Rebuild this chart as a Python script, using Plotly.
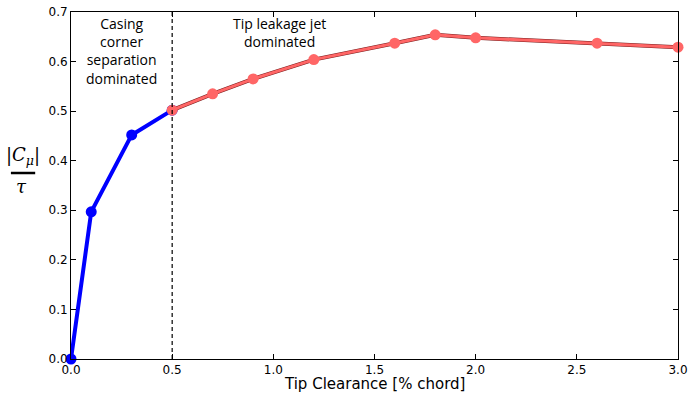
import plotly.graph_objects as go

# Casing-corner-separation regime
x_corner = [0.0, 0.1, 0.3, 0.5]
y_corner = [0.0, 0.297, 0.452, 0.502]

# Tip-leakage-jet regime
x_jet = [0.5, 0.7, 0.9, 1.2, 1.6, 1.8, 2.0, 2.6, 3.0]
y_jet = [0.502, 0.535, 0.565, 0.604, 0.637, 0.654, 0.648, 0.637, 0.629]

x_ticks = [0.0, 0.5, 1.0, 1.5, 2.0, 2.5, 3.0]
y_ticks = [0.0, 0.1, 0.2, 0.3, 0.4, 0.5, 0.6, 0.7]
regime_split = 0.5

fig = go.Figure()

fig.add_trace(go.Scatter(
    x=x_corner, y=y_corner, mode="lines+markers",
    line=dict(color="#0000ff", width=4),
    marker=dict(color="#0000ff", size=11),
    showlegend=False, cliponaxis=False,
))
# dark edge under the red curve
fig.add_trace(go.Scatter(
    x=x_jet, y=y_jet, mode="lines",
    line=dict(color="#7a1c1c", width=4),
    showlegend=False, cliponaxis=False,
))
fig.add_trace(go.Scatter(
    x=x_jet, y=y_jet, mode="lines+markers",
    line=dict(color="#ff6666", width=3),
    marker=dict(color="#ff6666", size=11),
    showlegend=False, cliponaxis=False,
))

fig.add_vline(x=regime_split, line=dict(color="black", width=1.2, dash="4px,3px"))

fig.add_annotation(
    x=0.25, y=0.7, xref="x", yref="y", yanchor="top", showarrow=False,
    text="Casing<br>corner<br>separation<br>dominated",
    font=dict(family="Open Sans", size=14, color="black"), align="center",
)
fig.add_annotation(
    x=1.03, y=0.7, xref="x", yref="y", yanchor="top", showarrow=False,
    text="Tip leakage jet<br>dominated",
    font=dict(family="Open Sans", size=14, color="black"), align="center",
)

# x-axis title, placed just below the tick labels
fig.add_annotation(
    x=0.5, y=0, xref="paper", yref="paper", xanchor="center", yanchor="middle",
    yshift=-25, showarrow=False, text="Tip Clearance [% chord]",
    font=dict(family="DejaVu Sans", size=15, color="black"),
)

# y-axis label: |C_mu| / tau as a stacked fraction
fig.add_annotation(
    x=-0.079, y=0.585, xref="paper", yref="paper", xanchor="center", yanchor="middle",
    showarrow=False,
    text="|<i>C</i><sub><i>μ</i></sub>|", font=dict(family="DejaVu Serif", size=18, color="black"),
)
fig.add_annotation(
    x=-0.081, y=0.497, xref="paper", yref="paper", xanchor="center", yanchor="middle",
    showarrow=False,
    text="<i>τ</i>", font=dict(family="DejaVu Serif", size=18, color="black"),
)
fig.add_shape(type="line", xref="paper", yref="paper",
              x0=-0.099, x1=-0.059, y0=0.536, y1=0.536,
              line=dict(color="black", width=2.5))

axis_common = dict(
    showgrid=False, zeroline=False, showline=True, linecolor="black", linewidth=1,
    mirror="ticks", ticks="inside", ticklen=5, tickcolor="black", automargin=False,
    tickfont=dict(family="DejaVu Sans", size=12, color="black"),
)
fig.update_xaxes(range=[0, 3.0], tickvals=x_ticks, ticktext=[f"{v:.1f}" for v in x_ticks],
                 **axis_common)
fig.update_yaxes(range=[0, 0.7], tickvals=y_ticks, ticktext=[f"{v:.1f}" for v in y_ticks],
                 **axis_common)

fig.update_layout(
    width=688, height=393,
    margin=dict(l=71, r=10, t=12, b=34),
    plot_bgcolor="white", paper_bgcolor="white",
)

fig.write_html("out.html")
